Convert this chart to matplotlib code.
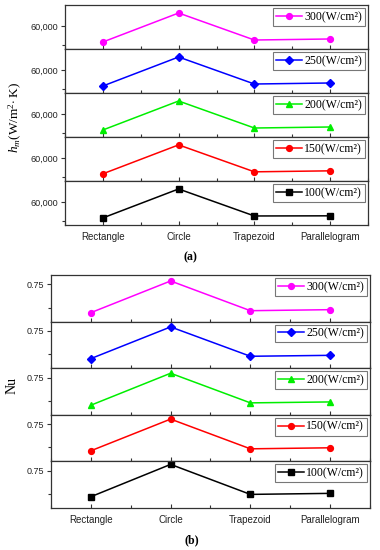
import matplotlib
matplotlib.use("Agg")
import matplotlib.pyplot as plt
from matplotlib.ticker import FixedLocator, FuncFormatter, MultipleLocator

plt.rcParams["mathtext.fontset"] = "custom"
plt.rcParams["mathtext.rm"] = "Liberation Serif"
plt.rcParams["mathtext.it"] = "Liberation Serif:italic"
plt.rcParams["mathtext.bf"] = "Liberation Serif:bold"

categories = ["Rectangle", "Circle", "Trapezoid", "Parallelogram"]
series_labels = ["300(W/cm²)", "250(W/cm²)", "200(W/cm²)", "150(W/cm²)", "100(W/cm²)"]
colors = ["#FF00FF", "#0000FF", "#00EE00", "#FF0000", "#000000"]
markers = ["o", "D", "^", "o", "s"]

hm_300 = [55850, 63490, 56370, 56640]
hm_250 = [55850, 63490, 56370, 56640]
hm_200 = [55850, 63490, 56370, 56640]
hm_150 = [55900, 63520, 56420, 56680]
hm_100 = [55870, 63500, 56380, 56420]

nu_300 = [0.7196, 0.7536, 0.7217, 0.7228]
nu_250 = [0.7203, 0.7543, 0.7228, 0.7238]
nu_200 = [0.7203, 0.7546, 0.7228, 0.7238]
nu_150 = [0.7214, 0.7554, 0.7235, 0.7246]
nu_100 = [0.7221, 0.7568, 0.7246, 0.7257]

hm_series = [hm_300, hm_250, hm_200, hm_150, hm_100]
nu_series = [nu_300, nu_250, nu_200, nu_150, nu_100]

W, H = 380, 550
fig = plt.figure(figsize=(W / 100, H / 100), dpi=100)

SANS = "Liberation Sans"
SERIF = "Liberation Serif"
spine_col = "#333333"


def panel_set(left, right, top, ph, data, ylim, major, minor, fmt, label_x, ylabel, ylabel_size,
              ylabel_x, ylabel_y, tag, tag_y):
    x = list(range(len(categories)))
    for i, (vals, lab, c, m) in enumerate(zip(data, series_labels, colors, markers)):
        y0 = top + i * ph
        ax = fig.add_axes([left / W, 1 - (y0 + ph) / H, (right - left) / W, ph / H])
        ms = 4.2 if m != "D" else 3.8
        ax.plot(x, vals, color=c, marker=m, markersize=ms, linewidth=1.1, label=lab)
        ax.set_xlim(-0.5, 3.5)
        ax.set_ylim(*ylim)
        ax.yaxis.set_major_locator(FixedLocator([major]))
        ax.yaxis.set_minor_locator(FixedLocator([minor]))
        ax.yaxis.set_major_formatter(FuncFormatter(fmt))
        ax.xaxis.set_major_locator(FixedLocator(x))
        ax.xaxis.set_minor_locator(MultipleLocator(0.5))
        ax.tick_params(axis="y", which="major", direction="out", length=3, width=0.8,
                       labelsize=6.5, pad=2, colors=spine_col, labelcolor="#222222")
        ax.tick_params(axis="y", which="minor", direction="out", length=2, width=0.8, colors=spine_col)
        ax.tick_params(axis="x", which="major", direction="in", length=3, width=0.8, colors=spine_col,
                       labelcolor="#222222", labelsize=7, pad=5)
        ax.tick_params(axis="x", which="minor", direction="in", length=2, width=0.8, colors=spine_col)
        for lbl in ax.get_yticklabels():
            lbl.set_fontfamily(SANS)
        if i == len(data) - 1:
            ax.set_xticklabels(categories, fontfamily=SANS)
        else:
            ax.set_xticklabels([])
        for s in ax.spines.values():
            s.set_color(spine_col)
            s.set_linewidth(0.9)
        leg = ax.legend(loc="upper right", prop={"family": SERIF, "size": 8.5},
                        frameon=True, fancybox=False, borderaxespad=0.25, borderpad=0.25,
                        handlelength=2.2, handletextpad=0.2, markerscale=1.0)
        leg.get_frame().set_edgecolor("#555555")
        leg.get_frame().set_linewidth(0.8)
    fig.text(ylabel_x / W, 1 - ylabel_y / H, ylabel, rotation=90, ha="center", va="center",
             fontsize=ylabel_size, fontfamily=SERIF)
    fig.text(label_x / W, 1 - tag_y / H, tag, ha="center", va="center", fontsize=8.5,
             fontfamily=SERIF, fontweight="bold")


panel_set(65, 368, 5, 44, hm_series, (54000, 65600), 60000, 55000,
          lambda v, p: f"{v:,.0f}", 190, r"$h_m$(W/m$^2\!\cdot$K)", 9.5, 15, 118, "(a)", 257)
panel_set(51, 370, 275, 46.6, nu_series, (0.71, 0.76), 0.75, 0.725,
          lambda v, p: f"{v:.2f}", 192, "Nu", 10, 12, 385, "(b)", 540)

fig.savefig("out.png", dpi=100)
